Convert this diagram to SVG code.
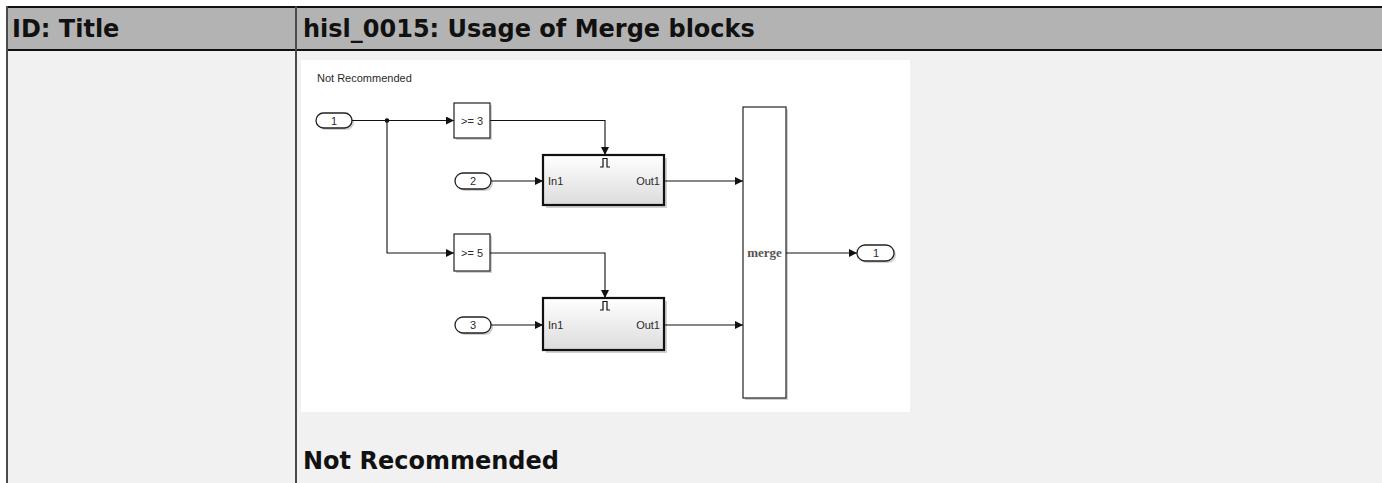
<svg xmlns="http://www.w3.org/2000/svg" width="1382" height="483" viewBox="0 0 1382 483">
<defs>
<style>
.hdr{font-family:"DejaVu Sans",sans-serif;font-weight:bold;font-size:24px;fill:#111}
.sm{font-family:"Liberation Sans",Arial,sans-serif;font-size:11px;fill:#2a2a2a}
.mg{font-family:"Liberation Serif",serif;font-size:13px;font-weight:bold;fill:#555}
.blk{fill:#fff;stroke:#222;stroke-width:1.2}
.pill{fill:#fff;stroke:#222;stroke-width:1.3}
.sub{fill:url(#sg);stroke:#111;stroke-width:2.2}
.shd{fill:#000;opacity:0.18}
.wire{fill:none;stroke:#111;stroke-width:1.1}
</style>
<linearGradient id="sg" x1="0" y1="0" x2="0" y2="1">
<stop offset="0" stop-color="#ffffff"/>
<stop offset="1" stop-color="#dcdcdc"/>
</linearGradient>
<marker id="arr" viewBox="0 0 10 10" refX="10" refY="5" markerWidth="10" markerHeight="8" orient="auto" markerUnits="userSpaceOnUse">
<path d="M0,0 L10,5 L0,10 z" fill="#111"/>
</marker>
</defs>

<g id="table">
<rect x="7" y="7" width="1375" height="43" fill="#b3b3b3"/>
<rect x="7" y="50" width="1375" height="433" fill="#f1f1f1"/>
<line x1="6" y1="7" x2="1382" y2="7" stroke="#111" stroke-width="2"/>
<line x1="6" y1="50" x2="1382" y2="50" stroke="#111" stroke-width="2.2"/>
<line x1="7" y1="6" x2="7" y2="483" stroke="#4a4a4a" stroke-width="2"/>
<line x1="296" y1="6" x2="296" y2="483" stroke="#4a4a4a" stroke-width="2"/>
<text class="hdr" x="12" y="37">ID: Title</text>
<text class="hdr" x="303" y="37">hisl_0015: Usage of Merge blocks</text>
<text class="hdr" x="303" y="469">Not Recommended</text>
</g>

<rect id="panel" x="301" y="60" width="609" height="352" fill="#ffffff"/>
<text class="sm" x="317" y="82">Not Recommended</text>

<g id="connectors">
<path class="wire" d="M352,120.5 H454" marker-end="url(#arr)"/>
<path class="wire" d="M387,120.5 V253 H454" marker-end="url(#arr)"/>
<circle cx="387" cy="120.5" r="2.3" fill="#111"/>
<path class="wire" d="M490,120.5 H605 V155" marker-end="url(#arr)"/>
<path class="wire" d="M491,181 H543" marker-end="url(#arr)"/>
<path class="wire" d="M664,181 H743" marker-end="url(#arr)"/>
<path class="wire" d="M490,253 H605 V298" marker-end="url(#arr)"/>
<path class="wire" d="M491,325 H543" marker-end="url(#arr)"/>
<path class="wire" d="M664,325 H743" marker-end="url(#arr)"/>
<path class="wire" d="M786,253 H857" marker-end="url(#arr)"/>
</g>

<g id="in1">
<rect class="shd" x="318" y="115" width="36" height="15" rx="7.5"/>
<rect class="pill" x="316" y="113" width="36" height="15" rx="7.5"/>
<text class="sm" x="334" y="124.5" text-anchor="middle">1</text>
</g>
<g id="cmp3">
<rect class="shd" x="456" y="105" width="36" height="35"/>
<rect class="blk" x="454" y="103" width="36" height="35"/>
<text class="sm" x="472" y="124.5" text-anchor="middle">&gt;= 3</text>
</g>
<g id="cmp5">
<rect class="shd" x="456" y="236" width="36" height="37"/>
<rect class="blk" x="454" y="234" width="36" height="37"/>
<text class="sm" x="472" y="256.5" text-anchor="middle">&gt;= 5</text>
</g>
<g id="in2">
<rect class="shd" x="457" y="175" width="36" height="16" rx="8"/>
<rect class="pill" x="455" y="173" width="36" height="16" rx="8"/>
<text class="sm" x="473" y="185" text-anchor="middle">2</text>
</g>
<g id="in3">
<rect class="shd" x="457" y="319" width="36" height="16" rx="8"/>
<rect class="pill" x="455" y="317" width="36" height="16" rx="8"/>
<text class="sm" x="473" y="329" text-anchor="middle">3</text>
</g>
<g id="sub1">
<rect class="shd" x="546" y="158" width="121" height="50"/>
<rect class="sub" x="543" y="155" width="121" height="50"/>
<path d="M600,167 H603 V158.5 H607 V167 H610" fill="none" stroke="#111" stroke-width="1.2"/>
<text class="sm" x="548" y="185">In1</text>
<text class="sm" x="660" y="185" text-anchor="end">Out1</text>
</g>
<g id="sub2">
<rect class="shd" x="546" y="301" width="121" height="52"/>
<rect class="sub" x="543" y="298" width="121" height="52"/>
<path d="M600,310 H603 V301.5 H607 V310 H610" fill="none" stroke="#111" stroke-width="1.2"/>
<text class="sm" x="548" y="329">In1</text>
<text class="sm" x="660" y="329" text-anchor="end">Out1</text>
</g>
<g id="merge">
<rect class="shd" x="745" y="109" width="43" height="291"/>
<rect class="blk" x="743" y="107" width="43" height="291"/>
<text class="mg" x="764.5" y="257" text-anchor="middle">merge</text>
</g>
<g id="out1">
<rect class="shd" x="859" y="247" width="37" height="16" rx="8"/>
<rect class="pill" x="857" y="245" width="37" height="16" rx="8"/>
<text class="sm" x="876" y="257" text-anchor="middle">1</text>
</g>
</svg>
